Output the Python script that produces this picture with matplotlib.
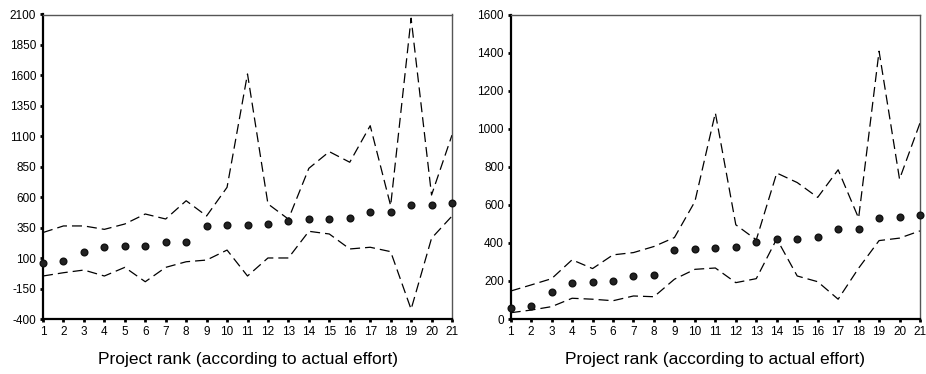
import numpy as np
import matplotlib.pyplot as plt

plt.rcParams["font.family"] = ["Liberation Sans", "DejaVu Sans"]
plt.rcParams["axes.unicode_minus"] = False

rank = np.arange(1, 22)

# left panel
left_mean = [62, 79, 150, 191, 197, 197, 232, 232, 364, 369, 369,
             380, 405, 419, 419, 432, 476, 476, 536, 536, 550]
left_upper = [310, 364, 364, 336, 380, 462, 421, 571, 446, 681, 1612,
              545, 420, 837, 974, 887, 1187, 530, 2070, 618, 1110]
left_lower = [-47, -20, 2, -47, 24, -94, 24, 70, 84, 166, -47,
              101, 101, 320, 298, 175, 189, 153, -320, 263, 445]
left_ticks = list(range(-400, 2101, 250))

# right panel
right_mean = [56, 68, 142, 189, 195, 200, 226, 232, 361, 368, 374,
              379, 405, 421, 421, 430, 474, 474, 530, 535, 547]
right_upper = [147, 179, 212, 311, 265, 337, 349, 381, 428, 617, 1083,
               495, 416, 767, 717, 639, 784, 530, 1407, 735, 1030]
right_lower = [33, 47, 65, 109, 104, 96, 121, 117, 209, 261, 268,
               191, 212, 421, 226, 196, 104, 267, 412, 425, 463]
right_ticks = list(range(0, 1601, 200))

xlabel = "Project rank (according to actual effort)"

fig = plt.figure(figsize=(9.26, 3.74), dpi=100)
ax1 = fig.add_axes([43 / 926, 1 - 319 / 374, 409 / 926, 304.5 / 374])
ax2 = fig.add_axes([510.7 / 926, 1 - 319 / 374, 409.3 / 926, 304.5 / 374])


def draw_panel(ax, mean, upper, lower, ticks):
    ax.plot(rank, upper, color="black", lw=0.9, dashes=(8, 4))
    ax.plot(rank, lower, color="black", lw=0.9, dashes=(8, 4))
    ax.plot(rank, mean, ls="none", marker="o", ms=4.8, color="#222222",
            mec="#111111", clip_on=False, zorder=3)
    ax.set_xlim(1, 21)
    ax.set_ylim(ticks[0], ticks[-1])
    ax.set_xticks(rank)
    ax.set_yticks(ticks)
    ax.tick_params(direction="out", length=2, width=2, labelsize=8.5,
                   pad=3, color="black")
    for side in ("left", "bottom"):
        ax.spines[side].set_linewidth(1.6)
        ax.spines[side].set_color("black")
    for side in ("top", "right"):
        ax.spines[side].set_linewidth(1.0)
        ax.spines[side].set_color("#555555")
    ax.set_xlabel(xlabel, fontsize=12.5, labelpad=10)


draw_panel(ax1, left_mean, left_upper, left_lower, left_ticks)
draw_panel(ax2, right_mean, right_upper, right_lower, right_ticks)

fig.savefig("out.png", dpi=100)
